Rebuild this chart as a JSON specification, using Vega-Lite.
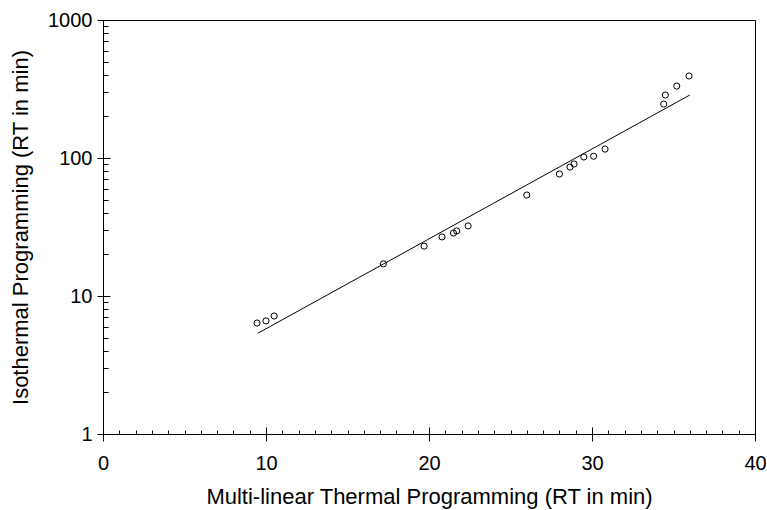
{
  "$schema": "https://vega.github.io/schema/vega-lite/v6.json",
  "width": 652,
  "height": 414,
  "autosize": {"type": "none"},
  "padding": {"left": 103, "top": 20, "right": 12, "bottom": 76},
  "background": "white",
  "config": {
    "view": {"stroke": "black", "strokeWidth": 1},
    "font": "Liberation Sans",
    "axis": {
      "domainColor": "black",
      "tickColor": "black",
      "labelColor": "black",
      "titleColor": "black",
      "labelFont": "Liberation Sans",
      "titleFont": "Liberation Sans",
      "titleFontWeight": "normal",
      "labelFlush": false,
      "grid": false
    }
  },
  "datasets": {
    "observed": [
      {"multilinear": 9.45, "isothermal": 6.37},
      {"multilinear": 10.0, "isothermal": 6.6},
      {"multilinear": 10.5, "isothermal": 7.16},
      {"multilinear": 17.2, "isothermal": 17.1},
      {"multilinear": 19.7, "isothermal": 23.0},
      {"multilinear": 20.8, "isothermal": 26.8},
      {"multilinear": 21.5, "isothermal": 28.6},
      {"multilinear": 21.7, "isothermal": 29.6},
      {"multilinear": 22.4, "isothermal": 32.2},
      {"multilinear": 26.0, "isothermal": 53.9},
      {"multilinear": 28.0, "isothermal": 76.6},
      {"multilinear": 28.65, "isothermal": 86},
      {"multilinear": 28.9, "isothermal": 90.5},
      {"multilinear": 29.5, "isothermal": 101.7},
      {"multilinear": 30.1, "isothermal": 103},
      {"multilinear": 30.8, "isothermal": 116},
      {"multilinear": 34.4, "isothermal": 246},
      {"multilinear": 34.5, "isothermal": 286},
      {"multilinear": 35.2, "isothermal": 332},
      {"multilinear": 35.95, "isothermal": 393}
    ],
    "fit": [
      {"multilinear": 9.5, "isothermal": 5.37},
      {"multilinear": 36.0, "isothermal": 286}
    ]
  },
  "resolve": {"axis": {"x": "independent", "y": "independent"}},
  "layer": [
    {
      "data": {"name": "observed"},
      "mark": {"type": "point", "shape": "circle", "filled": false, "stroke": "black", "strokeWidth": 1, "size": 38, "opacity": 1},
      "encoding": {
        "x": {
          "field": "multilinear",
          "type": "quantitative",
          "scale": {"domain": [0, 40], "nice": false, "zero": false},
          "axis": {
            "orient": "bottom",
            "values": [0, 10, 20, 30, 40],
            "tickSize": 7,
            "labelPadding": 12,
            "labelFontSize": 20,
            "titleFontSize": 22,
            "titlePadding": 13,
            "title": "Multi-linear Thermal Programming (RT in min)"
          }
        },
        "y": {
          "field": "isothermal",
          "type": "quantitative",
          "scale": {"type": "log", "domain": [1, 1000], "nice": false},
          "axis": {
            "orient": "left",
            "values": [1, 10, 100, 1000],
            "format": "d",
            "tickSize": 6,
            "labelPadding": 5,
            "labelFontSize": 20,
            "titleFontSize": 22,
            "titlePadding": 15,
            "title": "Isothermal Programming (RT in min)"
          }
        }
      }
    },
    {
      "data": {"name": "fit"},
      "mark": {"type": "line", "color": "black", "strokeWidth": 1},
      "encoding": {
        "x": {
          "field": "multilinear",
          "type": "quantitative",
          "axis": {
            "orient": "bottom",
            "values": [0,1,2,3,4,5,6,7,8,9,10,11,12,13,14,15,16,17,18,19,20,21,22,23,24,25,26,27,28,29,30,31,32,33,34,35,36,37,38,39,40],
            "labels": false,
            "domain": false,
            "title": null,
            "tickSize": {"condition": {"test": "datum.value % 10 === 0", "value": -7}, "value": -4}
          }
        },
        "y": {
          "field": "isothermal",
          "type": "quantitative",
          "axis": {
            "orient": "left",
            "values": [1,2,3,4,5,6,7,8,9,10,20,30,40,50,60,70,80,90,100,200,300,400,500,600,700,800,900,1000],
            "labels": false,
            "domain": false,
            "title": null,
            "tickSize": {"condition": {"test": "indexof([1,10,100,1000], datum.value) >= 0", "value": -7}, "value": -5}
          }
        }
      }
    }
  ]
}
